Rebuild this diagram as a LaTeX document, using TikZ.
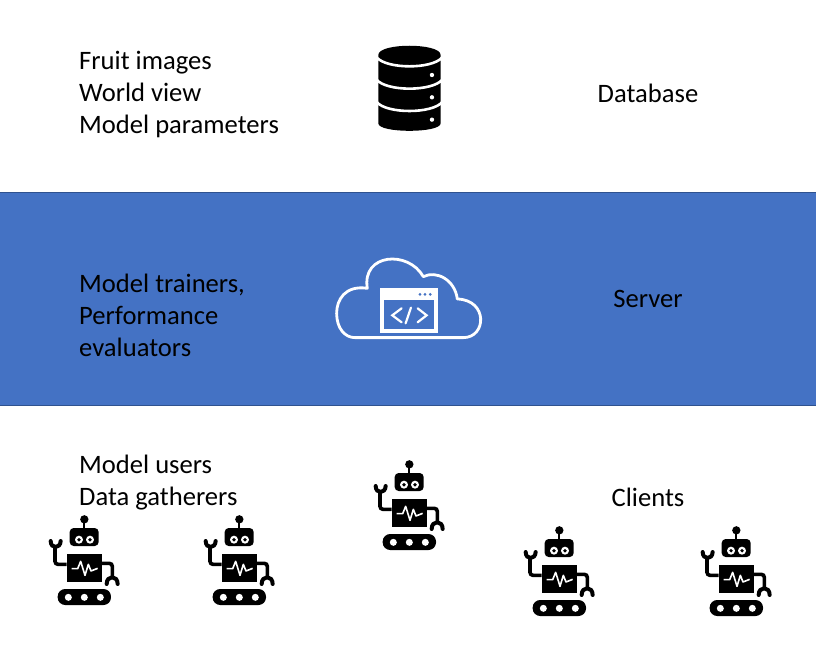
\documentclass[tikz,border=0pt]{standalone}
\usepackage{fontspec}
\setmainfont{Carlito}
\definecolor{bandblue}{HTML}{4472C4}
\definecolor{bandedge}{HTML}{2F528F}
\tikzset{
  label/.style={anchor=west,align=left,inner sep=0pt,font=\fontsize{26.6}{32}\selectfont},
  robot/.pic={
    % coordinates as in the 3x crop, origin at robot centre
    \begin{scope}[x=0.3333pt,y=-0.3333pt,shift={(-144,-165)}]
    %Antenna and head
    \fill (148,43) circle (12.5);
    \draw[line width=2.2pt] (148,43) -- (148,75);
    \fill[rounded corners=4pt] (104,69) rectangle (191,123);
    \foreach \ex in {132,165} {
      \fill[white] (\ex,104) circle (12);
      \fill (\ex,104) circle (5.5);
    }
    %Body
    \fill (95,147) rectangle (201,232);
    \draw[white,line width=1.6pt,line join=round] (110,191) -- (128,191) -- (137,169) -- (150,211) -- (160,178) -- (168,198) -- (188,190);
    %Arms
    \draw[line width=3.6pt,rounded corners=3pt] (95,178) -- (60,178) -- (60,125);
    \draw[line width=4pt,line cap=round] (47,108) .. controls (47,132) and (76,132) .. (77,108);
    \draw[line width=3.6pt,rounded corners=3pt] (200,175) -- (232,175) -- (232,220);
    \draw[line width=4pt,line cap=round] (215,237) .. controls (215,210) and (248,210) .. (248,237);
    %Track
    \fill[rounded corners=7.5pt] (68,252) rectangle (228,300);
    \foreach \wx in {100,148,196}
      \fill[white] (\wx,277) circle (10.5);
    \end{scope}
  }
}
\begin{document}
\begin{tikzpicture}[x=1pt,y=-1pt]
\useasboundingbox (0,0) rectangle (816,669);
%Background
\fill[white] (0,0) rectangle (816,669);
\draw[fill=bandblue,draw=bandedge,line width=0.5pt] (-1,192.5) rectangle (817,405.5);

%Left texts
\node[label] (dataText) at (79,94) {Fruit images\\World view\\Model parameters};
\node[label] (serverText) at (79,315) {Model trainers,\\Performance\\evaluators};
\node[label] (clientText) at (79,483) {Model users\\Data gatherers};

%Right texts
\node[label,anchor=center] (dataName) at (648,93) {Database};
\node[label,anchor=center] (serverName) at (648,299) {Server};
\node[label,anchor=center] (clientName) at (648,497) {Clients};

%Database
\begin{scope}[x=0.3333pt,y=-0.3333pt,shift={(1020,90)}]
\fill (115,75) .. controls (115,38) and (302,38) .. (302,75) -- (302,280) .. controls (302,310) and (115,310) .. (115,280) -- cycle;
\foreach \dy in {0,67,134} {
  \draw[white,line width=2.6pt] (110,\dy+82) .. controls (140,\dy+118) and (277,\dy+118) .. (307,\dy+82);
  \fill[white] (276,\dy+135) circle (6.5);
}
\end{scope}

%Cloud
\begin{scope}[x=0.3333pt,y=-0.3333pt,shift={(975,735)}]
\draw[white,line width=2.8pt,line join=round] (90,278) -- (415,278)
  .. controls (485,278) and (490,165) .. (397,162)
  .. controls (390,105) and (335,75) .. (295,95)
  .. controls (250,15) and (110,25) .. (127,130)
  .. controls (60,120) and (35,165) .. (35,205)
  .. controls (35,250) and (60,278) .. (90,278) -- cycle;
\fill[white] (165,130) rectangle (340,265);
\fill[bandblue] (178,165) rectangle (327,252);
\foreach \bx in {285,300,316}
  \fill[bandblue] (\bx,148) circle (4.5);
\draw[white,line width=2.2pt,line cap=round,line join=miter] (230,190) -- (202,211) -- (230,232);
\draw[white,line width=2.2pt,line cap=round] (258,188) -- (242,235);
\draw[white,line width=2.2pt,line cap=round,line join=miter] (278,190) -- (305,211) -- (278,232);
\end{scope}

%Robots
\pic at (83,560) {robot};
\pic at (238,560) {robot};
\pic at (408,505) {robot};
\pic at (558,571) {robot};
\pic at (735,571) {robot};
\end{tikzpicture}
\end{document}
